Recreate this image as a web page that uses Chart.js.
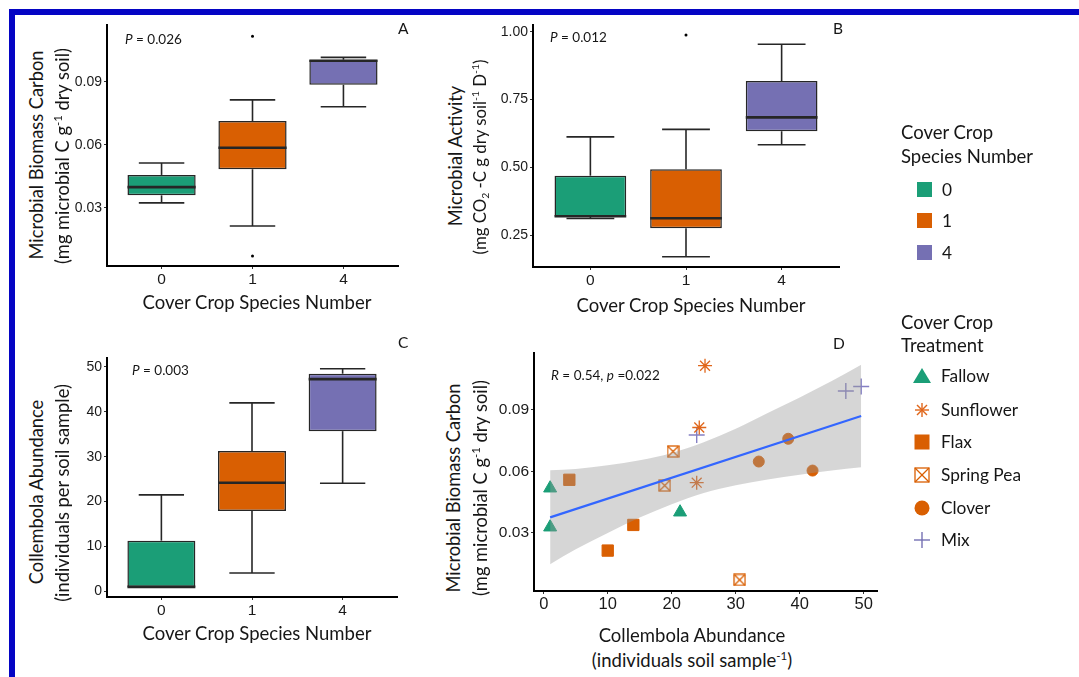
<!DOCTYPE html>
<html>
<head>
<meta charset="utf-8">
<script src="https://cdn.jsdelivr.net/npm/chart.js@4.4.1/dist/chart.umd.min.js"></script>
<style>
  body { margin: 0; background: #fff; }
  #page { position: relative; width: 1079px; height: 677px; overflow: hidden; background: #fff;
          font-family: Lato, "Open Sans", sans-serif; color: #161616; }
  .frame-top { position: absolute; left: 9px; top: 9px; right: 0; height: 6px; background: #0404c4; }
  .frame-left { position: absolute; left: 9px; top: 9px; bottom: 0; width: 6px; background: #0404c4; }
  canvas { position: absolute; }
  .txt { position: absolute; white-space: nowrap; line-height: 1; }
  .title { font-size: 18.5px; transform: translate(-50%, -50%); }
  .ytitle { font-size: 18.3px; transform: translate(-50%, -50%) rotate(-90deg); }
  .stat { font-size: 13.5px; transform: translateY(-50%); }
  .letter { font-size: 15.5px; transform: translateY(-50%); }
  .leg { font-size: 18.5px; transform: translateY(-50%); }
  .legitem { font-size: 17.3px; transform: translateY(-50%); }
  sup { font-size: 0.62em; vertical-align: 0.6em; line-height: 0; }
  sub { font-size: 0.62em; vertical-align: -0.3em; line-height: 0; }
  svg { position: absolute; left: 0; top: 0; }
</style>
</head>
<body>
<div id="page">
  <div class="frame-top"></div>
  <div class="frame-left"></div>

  <canvas id="chartA"></canvas>
  <canvas id="chartB"></canvas>
  <canvas id="chartC"></canvas>
  <canvas id="chartD"></canvas>

  <!-- panel A -->
  <div class="txt ytitle" style="left:36px;top:155px">Microbial Biomass Carbon</div>
  <div class="txt ytitle" style="left:62px;top:156px">(mg microbial C g<sup>-1</sup> dry soil)</div>
  <div class="txt title" style="left:257px;top:302px">Cover Crop Species Number</div>
  <div class="txt stat" style="left:125px;top:40px"><i>P</i> = 0.026</div>
  <div class="txt letter" style="left:398px;top:29px">A</div>

  <!-- panel B -->
  <div class="txt ytitle" style="left:455px;top:156px">Microbial Activity</div>
  <div class="txt ytitle" style="left:480px;top:157px;font-size:16.8px">(mg CO<sub>2</sub> -C g dry soil<sup>-1</sup> D<sup>-1</sup>)</div>
  <div class="txt title" style="left:691px;top:305px">Cover Crop Species Number</div>
  <div class="txt stat" style="left:550px;top:38px"><i>P</i> = 0.012</div>
  <div class="txt letter" style="left:833px;top:29px">B</div>

  <!-- panel C -->
  <div class="txt ytitle" style="left:36px;top:492px">Collembola Abundance</div>
  <div class="txt ytitle" style="left:62px;top:493px">(individuals per soil sample)</div>
  <div class="txt title" style="left:257px;top:633px">Cover Crop Species Number</div>
  <div class="txt stat" style="left:132px;top:371px"><i>P</i> = 0.003</div>
  <div class="txt letter" style="left:398px;top:343px">C</div>

  <!-- panel D -->
  <div class="txt ytitle" style="left:453px;top:488px">Microbial Biomass Carbon</div>
  <div class="txt ytitle" style="left:480px;top:488px">(mg microbial C g<sup>-1</sup> dry soil)</div>
  <div class="txt title" style="left:692px;top:635px">Collembola Abundance</div>
  <div class="txt title" style="left:692px;top:660px">(individuals soil sample<sup>-1</sup>)</div>
  <div class="txt stat" style="left:551px;top:376px"><i>R</i> = 0.54, <i>p</i> =0.022</div>
  <div class="txt letter" style="left:833px;top:344px">D</div>

  <!-- legends -->
  <svg width="1079" height="677">
    <rect x="917" y="182" width="15" height="15" fill="#1b9e77"/>
    <rect x="917" y="213" width="15" height="15" fill="#d95f02"/>
    <rect x="917" y="245" width="15" height="15" fill="#7570b3"/>

    <polygon points="922,368 931,383 913,383" fill="#1b9e77"/>
    <g stroke="#e0661a" stroke-width="1.4">
      <line x1="922" y1="403" x2="922" y2="417"/><line x1="915" y1="410" x2="929" y2="410"/>
      <line x1="917" y1="405" x2="927" y2="415"/><line x1="927" y1="405" x2="917" y2="415"/>
    </g>
    <rect x="914.5" y="434.5" width="15" height="15" fill="#d95f02"/>
    <g stroke="#d95f02" stroke-width="1.3" fill="none">
      <rect x="915" y="468" width="14" height="14"/>
      <line x1="915" y1="468" x2="929" y2="482"/><line x1="929" y1="468" x2="915" y2="482"/>
    </g>
    <circle cx="922" cy="508" r="7.5" fill="#d95f02"/>
    <g stroke="#7570b3" stroke-width="1.4">
      <line x1="922" y1="532" x2="922" y2="548"/><line x1="914" y1="540" x2="930" y2="540"/>
    </g>
  </svg>
  <div class="txt leg" style="left:901px;top:132px">Cover Crop</div>
  <div class="txt leg" style="left:901px;top:156px">Species Number</div>
  <div class="txt legitem" style="left:942px;top:190px">0</div>
  <div class="txt legitem" style="left:942px;top:221px">1</div>
  <div class="txt legitem" style="left:942px;top:253px">4</div>

  <div class="txt leg" style="left:901px;top:322px">Cover Crop</div>
  <div class="txt leg" style="left:901px;top:345px">Treatment</div>
  <div class="txt legitem" style="left:941px;top:376px">Fallow</div>
  <div class="txt legitem" style="left:941px;top:410px">Sunflower</div>
  <div class="txt legitem" style="left:941px;top:442px">Flax</div>
  <div class="txt legitem" style="left:941px;top:475px">Spring Pea</div>
  <div class="txt legitem" style="left:941px;top:508px">Clover</div>
  <div class="txt legitem" style="left:941px;top:540px">Mix</div>
</div>

<script>
// ---- data ----
const groups = ['0', '1', '4'];
const groupColors = ['#1b9e77', '#d95f02', '#7570b3'];

// A: microbial biomass carbon by species number
const mbcLow  = [0.0324, 0.0214, 0.0781];
const mbcQ1   = [0.0360, 0.0484, 0.0886];
const mbcMed  = [0.0399, 0.0586, 0.1000];
const mbcQ3   = [0.0457, 0.0713, 0.1005];
const mbcHigh = [0.0514, 0.0814, 0.1016];
const mbcOutGroup = [1, 1];
const mbcOutValue = [0.1116, 0.0071];
const mbcTicks = [0.03, 0.06, 0.09];

// B: microbial activity
const actLow  = [0.311, 0.170, 0.583];
const actQ1   = [0.317, 0.275, 0.633];
const actMed  = [0.319, 0.312, 0.684];
const actQ3   = [0.469, 0.493, 0.818];
const actHigh = [0.612, 0.640, 0.954];
const actOutGroup = [1];
const actOutValue = [0.988];
const actTicks = [0.25, 0.50, 0.75, 1.00];

// C: collembola abundance
const colLow  = [1.0, 4.1, 24.1];
const colQ1   = [1.0, 17.9, 35.7];
const colMed  = [1.0, 24.2, 47.3];
const colQ3   = [11.3, 31.3, 48.5];
const colHigh = [21.5, 42.0, 49.6];
const colTicks = [0, 10, 20, 30, 40, 50];

// D: biomass carbon vs collembola abundance, per treatment
const fallowX = [1.0, 1.0, 21.3];
const fallowY = [0.0518, 0.0328, 0.0401];
const sunflowerX = [25.2, 24.3, 23.9];
const sunflowerY = [0.1115, 0.0814, 0.0545];
const flaxX = [4.0, 14.0, 10.0];
const flaxY = [0.0559, 0.0339, 0.0214];
const peaX = [20.2, 18.9, 30.6];
const peaY = [0.0697, 0.0531, 0.0071];
const cloverX = [33.6, 38.2, 42.0];
const cloverY = [0.0648, 0.0759, 0.0604];
const mixX = [23.9, 47.2, 49.6];
const mixY = [0.0777, 0.0992, 0.1014];

const fitX = [1.0, 49.6];
const fitY = [0.0376, 0.0870];
const bandX     = [1, 5, 10, 15, 20, 25, 30, 35, 40, 45, 49.6];
const bandUpper = [0.0605, 0.0612, 0.0630, 0.0654, 0.0690, 0.0742, 0.0808, 0.0885, 0.0960, 0.1040, 0.1120];
const bandLower = [0.0147, 0.0220, 0.0300, 0.0375, 0.0440, 0.0495, 0.0532, 0.0560, 0.0584, 0.0604, 0.0620];
const abundanceTicks = [0, 10, 20, 30, 40, 50];

// ---- layout ----
const tickFont = 'Liberation Sans, Arial, sans-serif';
const M = { left: 50, top: 14, right: 14, bottom: 26 };

const placeCanvas = (id, r) => {
    const c = document.getElementById(id);
    c.width = r.r - r.l + M.left + M.right;
    c.height = r.b - r.t + M.top + M.bottom;
    c.style.left = (r.l - M.left) + 'px';
    c.style.top = (r.t - M.top) + 'px';
    return c;
};

const pairs = (xs, ys) => xs.map((x, i) => ({ x: x, y: ys[i] }));

const axisY = (min, max, ticks, digits, size) => ({
    min: min, max: max, beginAtZero: false,
    afterBuildTicks: s => { s.ticks = ticks.map(v => ({ value: v })); },
    afterFit: s => { s.width = M.left; },
    ticks: { callback: v => v.toFixed(digits), font: { family: tickFont, size: size }, color: '#1a1a1a', padding: 2 },
    grid: { drawOnChartArea: false, drawTicks: true, tickLength: 3, color: '#333', lineWidth: 1 },
    border: { display: true, color: '#000', width: 2 }
});

// whiskers, caps and medians drawn on top of the floating bars
const makeWhiskers = (low, q1, med, q3, high) => ({
    id: 'whiskers',
    afterDatasetsDraw(chart) {
        const { ctx, scales: { x, y } } = chart;
        const unit = x.getPixelForValue(2) - x.getPixelForValue(1);
        const seg = (a, b, c, d) => { ctx.beginPath(); ctx.moveTo(a, b); ctx.lineTo(c, d); ctx.stroke(); };
        ctx.save();
        ctx.strokeStyle = '#262626';
        low.forEach((lo, i) => {
            const cx = x.getPixelForValue(i + 1);
            const yHi = y.getPixelForValue(high[i]);
            const yLo = y.getPixelForValue(lo);
            ctx.lineWidth = 1.6;
            seg(cx, yHi, cx, y.getPixelForValue(q3[i]));
            seg(cx, y.getPixelForValue(q1[i]), cx, yLo);
            seg(cx - unit * 0.25, yHi, cx + unit * 0.25, yHi);
            seg(cx - unit * 0.25, yLo, cx + unit * 0.25, yLo);
            ctx.lineWidth = 2.6;
            const yMed = y.getPixelForValue(med[i]);
            seg(cx - unit * 0.375, yMed, cx + unit * 0.375, yMed);
        });
        ctx.restore();
    }
});

const boxChart = (id, rect, s) => {
    const canvas = placeCanvas(id, rect);
    const outliers = s.outGroup.map((g, i) => ({ x: g + 1, y: s.outValue[i] }));
    return new Chart(canvas, {
        type: 'bar',
        data: {
            datasets: [
                { type: 'scatter', data: outliers, pointRadius: 1.5, backgroundColor: '#000', borderWidth: 0 },
                {
                    data: groups.map((g, i) => ({ x: i + 1, y: [s.q1[i], s.q3[i]] })),
                    backgroundColor: groupColors,
                    borderColor: '#262626',
                    borderWidth: 1.5,
                    borderSkipped: false,
                    barPercentage: 0.75,
                    categoryPercentage: 1
                }
            ]
        },
        options: {
            responsive: false,
            animation: false,
            events: [],
            layout: { padding: { left: 0, top: M.top, right: M.right, bottom: 0 } },
            plugins: { legend: { display: false }, tooltip: { enabled: false } },
            scales: {
                x: {
                    type: 'linear', min: 0.4, max: 3.6, offset: false,
                    afterBuildTicks: sc => { sc.ticks = groups.map((g, i) => ({ value: i + 1 })); },
                    afterFit: sc => { sc.height = M.bottom; },
                    ticks: { callback: v => groups[v - 1], font: { family: tickFont, size: 15.5 }, color: '#1a1a1a', padding: 1 },
                    grid: { offset: false, drawOnChartArea: false, drawTicks: true, tickLength: 3, color: '#333', lineWidth: 1 },
                    border: { display: true, color: '#000', width: 2 }
                },
                y: axisY(s.min, s.max, s.ticks, s.digits, 14)
            }
        },
        plugins: [makeWhiskers(s.low, s.q1, s.med, s.q3, s.high)]
    });
};

boxChart('chartA', { l: 107, t: 25, r: 398, b: 266 }, {
    low: mbcLow, q1: mbcQ1, med: mbcMed, q3: mbcQ3, high: mbcHigh,
    outGroup: mbcOutGroup, outValue: mbcOutValue,
    min: 0.0024, max: 0.117, ticks: mbcTicks, digits: 2
});

boxChart('chartB', { l: 533, t: 25, r: 839, b: 267 }, {
    low: actLow, q1: actQ1, med: actMed, q3: actQ3, high: actHigh,
    outGroup: actOutGroup, outValue: actOutValue,
    min: 0.132, max: 1.025, ticks: actTicks, digits: 2
});

boxChart('chartC', { l: 107, t: 358, r: 397, b: 597 }, {
    low: colLow, q1: colQ1, med: colMed, q3: colQ3, high: colHigh,
    outGroup: [], outValue: [],
    min: -1.25, max: 52.0, ticks: colTicks, digits: 0
});

// spring pea marker: square with a cross
const peaMarker = (() => {
    const c = document.createElement('canvas');
    c.width = 13; c.height = 13;
    const g = c.getContext('2d');
    g.strokeStyle = '#d95f02';
    g.lineWidth = 1.3;
    g.strokeRect(1, 1, 11, 11);
    g.beginPath();
    g.moveTo(1, 1); g.lineTo(12, 12);
    g.moveTo(12, 1); g.lineTo(1, 12);
    g.stroke();
    return c;
})();

const canvasD = placeCanvas('chartD', { l: 534, t: 353, r: 877, b: 591 });
new Chart(canvasD, {
    type: 'scatter',
    data: {
        datasets: [
            { type: 'line', data: pairs(fitX, fitY), borderColor: '#3366ff', borderWidth: 2.2, pointRadius: 0, showLine: true, fill: false },
            { type: 'line', data: pairs(bandX, bandUpper), borderColor: 'transparent', pointRadius: 0, showLine: true,
              fill: '+1', backgroundColor: 'rgba(153,153,153,0.4)', cubicInterpolationMode: 'monotone' },
            { type: 'line', data: pairs(bandX, bandLower), borderColor: 'transparent', pointRadius: 0, showLine: true,
              fill: false, cubicInterpolationMode: 'monotone' },
            { label: 'Fallow', data: pairs(fallowX, fallowY), pointStyle: 'triangle', pointRadius: 7.5,
              backgroundColor: '#1b9e77', borderColor: '#1b9e77', borderWidth: 1 },
            { label: 'Sunflower', data: pairs(sunflowerX, sunflowerY), pointStyle: 'star', pointRadius: 7,
              backgroundColor: '#d95f02', borderColor: '#e0661a', borderWidth: 1.3 },
            { label: 'Flax', data: pairs(flaxX, flaxY), pointStyle: 'rect', pointRadius: 8,
              backgroundColor: '#d95f02', borderColor: '#d95f02', borderWidth: 1 },
            { label: 'Spring Pea', data: pairs(peaX, peaY), pointStyle: peaMarker, pointRadius: 6 },
            { label: 'Clover', data: pairs(cloverX, cloverY), pointStyle: 'circle', pointRadius: 5.5,
              backgroundColor: '#d95f02', borderColor: '#d95f02', borderWidth: 1 },
            { label: 'Mix', data: pairs(mixX, mixY), pointStyle: 'cross', pointRadius: 8,
              borderColor: '#8580c4', borderWidth: 1.4 }
        ]
    },
    options: {
        responsive: false,
        animation: false,
        events: [],
        layout: { padding: { left: 0, top: M.top, right: M.right, bottom: 0 } },
        plugins: { legend: { display: false }, tooltip: { enabled: false } },
        scales: {
            x: {
                type: 'linear', min: -1.52, max: 52.07,
                afterBuildTicks: s => { s.ticks = abundanceTicks.map(v => ({ value: v })); },
                afterFit: s => { s.height = M.bottom; },
                ticks: { font: { family: tickFont, size: 16.5 }, color: '#1a1a1a', padding: 1 },
                grid: { drawOnChartArea: false, drawTicks: true, tickLength: 3, color: '#333', lineWidth: 1 },
                border: { display: true, color: '#000', width: 2 }
            },
            y: axisY(0.0017, 0.1177, mbcTicks, 2, 15.5)
        }
    }
});
</script>
</body>
</html>
